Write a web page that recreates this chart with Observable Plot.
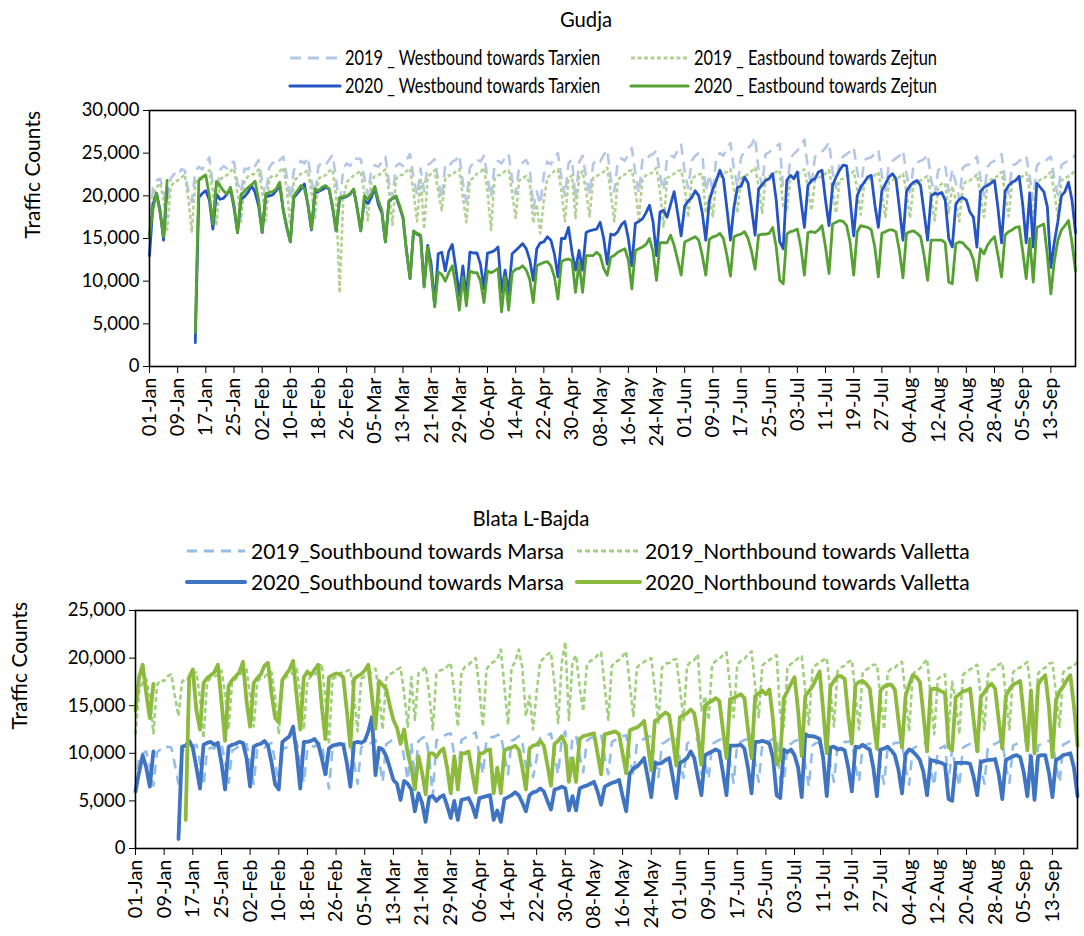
<!DOCTYPE html>
<html><head><meta charset="utf-8">
<script src="https://cdn.jsdelivr.net/npm/d3@7"></script>
<script src="https://cdn.jsdelivr.net/npm/@observablehq/plot@0.6"></script>
<style>
body{margin:0;background:#fff;}
#page{position:relative;width:1084px;height:936px;overflow:hidden;font-family:Lato,"Open Sans",sans-serif;color:#000;background:#fff;}
.t{position:absolute;white-space:nowrap;line-height:1;transform-origin:0 50%;}
.chart{position:absolute;left:0;}
#legendLines{position:absolute;left:0;top:0;}
</style></head><body><div id="page"></div>
<script>
// ---------- x axis tick labels (every 8 days from 01-Jan) ----------
const tickLabels = ["01-Jan","09-Jan","17-Jan","25-Jan","02-Feb","10-Feb","18-Feb","26-Feb","05-Mar","13-Mar","21-Mar","29-Mar","06-Apr","14-Apr","22-Apr","30-Apr","08-May","16-May","24-May","01-Jun","09-Jun","17-Jun","25-Jun","03-Jul","11-Jul","19-Jul","27-Jul","04-Aug","12-Aug","20-Aug","28-Aug","05-Sep","13-Sep"];
const gudjaYTicks = [0,5000,10000,15000,20000,25000,30000];
const blataYTicks = [0,5000,10000,15000,20000,25000];

// ---------- Gudja daily counts (thousands), 01-Jan .. 20-Sep ----------
const gudjaWest2020 = [13.0,19.0,20.3,18.3,14.8,
21.0,null,null,null,null,null,null,
null,2.8,19.8,20.3,20.6,19.5,16.1,
20.2,19.6,19.7,20.2,20.8,18.6,15.7,
19.6,19.9,20.4,21.2,20.4,18.8,15.7,
19.9,20.0,20.1,20.6,21.2,18.3,16.2,
14.6,19.8,20.3,20.8,21.4,18.9,16.0,
20.3,20.5,20.7,21.0,20.8,18.6,15.9,
19.7,19.8,19.9,20.2,20.7,18.5,15.9,
19.5,19.1,19.8,20.9,19.0,18.0,14.6,
19.3,19.7,19.9,18.7,17.4,13.5,10.3,
15.8,15.5,15.3,9.4,14.2,12.0,7.2,
13.2,13.4,11.2,13.5,14.3,11.5,8.3,
11.8,8.1,13.4,13.3,13.3,12.0,9.1,
13.3,13.4,13.6,14.0,8.7,11.3,8.5,
13.2,13.6,14.0,14.4,13.8,12.5,10.1,
13.8,14.5,14.6,15.2,14.8,13.2,10.5,
15.0,15.0,16.3,13.4,11.3,13.6,11.3,
15.7,15.9,16.0,16.1,16.9,15.0,12.0,
15.5,15.4,15.8,16.6,17.0,15.0,11.8,
16.8,17.0,17.3,18.0,18.9,17.0,13.0,
18.1,18.3,17.5,19.0,20.5,18.0,15.3,
18.8,19.4,19.8,20.6,20.0,18.0,14.8,
19.4,20.8,21.8,23.0,22.0,18.5,14.8,
18.7,21.0,21.1,22.2,21.5,18.5,15.4,
20.8,21.3,21.8,22.0,22.6,19.5,14.6,
13.8,21.8,22.4,22.0,22.8,19.5,16.3,
21.2,21.8,22.0,22.8,23.0,19.5,16.5,
21.2,22.2,23.0,23.6,23.5,19.5,15.3,
20.0,21.0,21.6,22.2,22.4,19.0,16.3,
20.6,21.4,22.2,22.6,22.0,18.5,14.8,
20.5,21.2,21.6,21.8,21.2,18.0,14.8,
20.0,20.3,20.2,20.4,19.5,15.0,14.0,
19.0,19.6,19.8,19.5,18.1,17.5,14.0,
20.5,21.0,21.2,21.5,21.8,18.5,14.5,
20.5,21.2,21.6,21.8,22.3,19.0,14.5,
20.3,14.0,21.5,21.0,20.5,18.7,11.6,
14.6,17.0,20.0,20.5,21.6,19.5,15.7];

const gudjaEast2020 = [15.3,18.5,20.3,18.0,15.2,
21.8,null,null,null,null,null,null,
null,4.0,21.8,22.2,22.4,20.0,16.7,
21.7,21.2,20.6,20.2,21.0,19.0,15.7,
20.2,20.5,21.0,21.3,21.7,19.5,15.7,
20.2,20.4,20.5,20.8,21.6,18.3,16.4,
14.6,20.0,20.6,21.2,20.8,19.0,16.1,
20.8,20.6,21.0,21.2,20.8,18.8,15.9,
19.8,19.9,20.0,20.3,20.8,18.5,15.9,
20.0,19.6,20.2,21.1,19.5,18.3,14.6,
19.4,19.7,20.0,18.9,17.5,13.5,10.3,
15.9,15.6,15.4,9.3,14.0,11.0,7.0,
11.1,10.8,10.0,11.0,11.8,9.5,6.6,
10.5,7.1,11.2,11.0,11.0,10.0,7.5,
11.2,11.0,11.2,11.5,6.4,10.5,6.6,
11.0,11.4,11.5,11.8,11.3,10.2,7.5,
11.8,12.0,12.2,12.3,11.8,10.5,7.9,
12.3,12.5,12.6,12.4,8.7,12.2,8.7,
13.0,13.0,13.0,13.4,13.0,11.5,10.7,
12.8,13.0,13.4,13.6,13.8,12.5,9.1,
13.6,13.8,14.0,14.3,15.0,13.5,10.1,
14.5,14.5,14.5,15.4,14.2,12.5,10.7,
14.6,14.8,15.0,15.2,14.8,13.0,10.7,
14.9,15.2,15.3,15.6,15.0,13.0,10.6,
15.2,15.4,15.5,15.8,15.0,13.5,11.4,
15.4,15.5,15.5,15.6,16.3,14.0,10.1,
9.7,15.5,15.8,15.9,16.1,14.0,10.7,
15.7,15.8,15.7,16.0,16.5,14.0,10.9,
16.7,16.9,17.1,17.0,16.5,14.5,10.7,
15.8,16.5,16.4,16.3,16.0,14.0,10.5,
15.6,15.8,16.0,16.0,15.8,13.5,10.4,
15.6,15.8,15.9,15.6,15.2,13.0,10.1,
14.8,14.8,14.8,14.8,14.5,9.9,9.7,
14.4,14.6,14.5,14.0,13.6,12.5,10.1,
13.8,13.2,14.2,14.8,15.2,13.0,10.5,
15.4,15.8,16.0,16.3,16.4,13.5,10.3,
15.0,9.9,16.3,16.5,16.7,13.0,8.5,
12.4,14.8,16.0,16.5,17.1,14.5,11.2];

// 2019 values placed on the same calendar date (no 29-Feb in 2019)
const gudjaWest2019 = [15.5,21.0,21.8,22.0,20.5,19.0,
22.0,22.6,22.3,23.1,23.0,20.6,19.3,
22.8,23.4,23.1,23.8,24.5,21.2,19.8,
23.0,23.5,23.2,23.9,24.0,21.5,20.4,
23.2,23.1,23.8,23.5,24.2,21.8,19.9,
23.3,23.9,23.6,24.2,24.6,22.3,19.5,
23.0,23.5,24.1,23.8,24.5,21.7,20.2,
23.5,23.9,23.6,24.2,24.8,22.0,18.5,
23.2,23.8,23.5,24.4,null,24.3,22.2,20.1,
23.1,23.6,23.4,24.0,24.6,21.6,19.8,
23.5,23.8,23.5,24.2,24.9,22.1,20.0,
23.2,20.5,23.6,23.9,24.3,21.8,19.6,
23.6,23.4,24.0,24.2,24.8,21.5,19.3,
23.3,23.9,24.3,24.0,24.7,22.2,19.8,
23.6,24.1,23.8,24.5,24.9,21.9,20.2,
23.4,23.9,24.2,23.3,18.5,20.5,19.0,
22.5,24.0,23.7,24.5,25.0,22.1,20.0,
23.8,24.3,19.5,23.9,24.7,22.3,20.1,
23.7,24.3,24.0,24.8,25.4,22.0,20.5,
24.0,24.4,24.1,24.9,25.6,22.6,20.3,
24.2,24.0,24.7,24.9,25.3,22.4,20.6,
24.4,24.8,24.5,25.3,26.0,22.8,20.9,
24.1,24.7,25.0,24.8,20.5,22.5,20.4,
24.6,25.0,24.7,25.6,26.2,23.1,21.0,
24.5,25.2,25.6,26.0,26.9,22.9,21.2,
24.9,25.1,25.5,25.8,26.1,20.5,20.6,
24.4,24.9,25.3,25.9,26.6,23.2,21.1,
24.6,24.7,25.2,25.6,26.3,22.8,20.9,
24.1,24.6,24.9,25.2,25.7,22.9,20.7,
24.2,24.4,24.5,25.0,25.4,22.4,20.6,
23.7,24.1,24.4,24.7,25.3,22.6,20.4,
23.6,23.9,24.1,24.3,24.9,21.9,20.1,
23.0,23.3,23.6,20.5,23.1,21.5,19.6,
23.3,23.6,23.7,24.1,24.6,22.1,20.0,
23.4,23.9,24.1,24.4,24.9,21.8,20.2,
23.6,23.7,24.1,24.3,24.7,22.2,19.5,
23.5,24.0,23.9,24.3,24.6,21.9,20.1,
23.6,23.9,24.1,24.3,24.8];

const gudjaEast2019 = [15.0,20.0,21.0,21.5,19.5,16.0,
21.0,21.6,21.8,22.1,22.5,19.8,15.8,
21.5,22.1,22.0,22.6,23.0,20.5,16.5,
21.8,22.3,22.4,22.9,23.2,20.3,16.9,
21.7,22.3,22.5,22.6,23.1,20.6,17.1,
22.0,22.4,22.3,22.9,23.3,20.8,16.5,
21.8,22.1,22.6,22.7,23.0,20.4,17.4,
22.0,22.3,22.4,22.9,23.1,20.0,8.6,
19.5,21.6,22.0,22.4,null,22.9,20.4,17.1,
21.8,22.3,22.4,22.7,23.1,20.6,16.6,
22.0,22.4,22.5,22.9,23.2,20.4,17.0,
22.1,16.1,22.2,22.6,23.0,20.5,18.3,
22.0,22.4,22.4,22.9,23.1,19.9,16.9,
21.8,22.1,22.6,22.8,23.3,20.6,16.0,
22.0,22.4,22.5,22.9,23.0,20.3,17.4,
21.8,22.1,22.3,21.5,16.8,19.0,15.6,
19.5,22.1,22.5,22.9,23.1,20.6,17.0,
22.0,22.4,17.4,22.3,22.9,20.5,17.6,
22.1,22.3,22.6,22.8,23.3,20.4,17.0,
21.8,22.3,22.5,22.9,23.0,20.7,17.2,
22.0,22.4,22.5,22.8,23.3,20.5,16.4,
22.1,22.3,22.6,22.9,23.0,20.9,17.5,
22.0,22.3,22.5,22.6,18.0,20.0,17.6,
22.1,22.2,22.6,22.8,23.1,20.8,18.0,
22.0,22.4,22.5,22.9,23.3,21.1,18.0,
22.1,22.3,22.6,22.8,23.0,18.5,18.1,
22.0,22.3,22.5,22.9,23.1,21.0,18.3,
21.8,22.1,22.3,22.6,23.0,20.7,18.0,
21.9,22.0,22.3,22.5,22.9,20.8,17.8,
21.5,21.9,22.0,22.4,22.8,20.4,17.5,
21.6,21.8,22.1,22.2,22.6,20.5,17.4,
21.2,21.6,21.8,22.1,22.3,19.9,17.1,
21.0,21.4,21.5,18.0,21.1,19.5,17.0,
21.3,21.7,21.8,22.1,22.5,20.3,17.5,
21.5,21.9,22.0,22.4,22.8,20.4,17.6,
21.6,21.8,22.1,22.3,22.7,20.6,17.0,
21.5,21.9,22.0,22.4,22.8,20.4,17.5,
21.8,22.1,22.3,22.6,23.0];

// ---------- Blata L-Bajda daily counts (thousands) ----------
const blataSouth2020 = [6.0,8.0,9.8,8.5,6.5,
10.2,null,null,null,null,null,null,
1.0,10.7,10.8,11.3,10.6,8.5,6.3,
10.9,11.1,11.2,10.9,11.1,9.0,6.2,
10.7,10.9,11.0,11.2,11.1,9.5,6.5,
10.7,10.9,11.0,11.3,10.8,9.0,6.7,
6.2,11.2,11.5,11.8,12.8,10.0,6.3,
11.2,11.2,11.3,11.5,11.0,9.5,7.8,
10.5,10.8,10.9,11.0,10.9,9.0,6.5,
11.1,11.2,11.1,11.3,12.3,13.8,7.7,
10.6,10.4,9.7,8.5,7.2,6.8,5.1,
7.1,6.8,6.2,3.9,5.8,4.8,2.8,
5.4,5.5,5.0,5.4,5.6,4.5,3.2,
5.0,3.0,5.1,5.2,5.3,4.5,3.3,
5.3,5.4,5.5,5.6,3.0,4.0,2.8,
5.2,5.4,5.6,5.9,5.6,4.8,3.9,
5.6,5.9,6.0,6.3,6.0,5.0,4.1,
6.2,6.3,6.5,6.3,4.0,5.5,4.0,
6.3,6.5,6.6,6.8,7.0,6.0,4.6,
6.5,6.7,6.9,7.0,7.2,5.5,3.9,
7.9,8.4,8.6,9.0,9.5,7.5,5.4,
9.0,8.9,9.0,9.3,9.5,7.5,5.3,
9.0,9.2,9.5,10.2,9.5,7.5,5.6,
9.8,10.0,10.2,10.4,10.2,8.0,5.6,
10.8,10.8,10.8,10.9,10.5,8.5,5.8,
11.2,11.2,11.3,11.2,11.0,9.5,5.6,
5.3,10.4,10.1,10.4,9.8,8.5,5.4,
12.0,11.8,11.8,11.7,11.5,9.5,5.5,
10.6,10.7,10.4,10.5,10.3,8.5,6.0,
10.7,10.6,10.9,10.6,10.4,8.5,5.5,
10.4,10.5,10.7,10.3,9.8,8.3,5.8,
9.9,10.4,10.2,9.8,9.3,8.0,5.6,
9.3,9.2,9.1,9.0,8.8,5.2,5.0,
9.0,9.0,9.0,9.0,8.9,7.5,5.6,
9.1,9.2,9.3,9.3,9.4,7.8,5.2,
9.3,9.5,9.7,9.8,9.6,8.0,5.5,
9.7,5.1,9.7,9.8,9.8,8.0,5.4,
9.3,9.5,9.8,9.9,10.0,8.5,5.5];

const blataNorth2020 = [14.5,18.0,19.3,16.3,13.7,
17.3,null,null,null,null,null,null,
null,null,3.0,18.0,18.8,14.5,12.5,
17.4,17.9,18.2,18.5,19.3,15.5,11.3,
17.1,17.7,18.1,18.5,19.6,15.5,12.8,
17.4,17.9,18.3,19.2,19.5,16.2,13.7,
13.3,17.7,18.3,18.8,19.7,16.0,12.5,
18.0,18.6,18.2,18.8,19.3,15.0,11.5,
18.0,18.2,18.4,18.3,18.0,14.5,10.7,
17.8,18.1,18.3,18.7,19.3,16.0,12.6,
17.6,17.2,16.7,15.0,13.5,12.7,11.0,
12.5,10.0,8.5,6.2,9.7,8.0,5.7,
10.0,10.0,9.6,10.2,10.5,8.5,5.8,
9.7,6.2,10.0,10.0,10.2,8.0,5.9,
10.0,10.0,10.3,10.4,5.8,8.5,5.8,
10.3,10.5,10.6,10.8,10.4,8.5,6.2,
10.5,10.8,10.9,11.3,10.8,8.8,6.6,
11.0,11.3,11.8,11.0,7.0,9.5,7.0,
11.5,11.8,11.9,12.0,12.1,10.0,7.8,
12.0,12.1,12.2,12.3,12.0,10.0,7.9,
12.4,12.6,12.7,13.0,13.4,11.0,8.2,
13.4,13.6,14.0,14.3,14.0,11.5,8.7,
13.8,14.0,14.2,14.6,14.2,12.0,8.8,
15.0,15.3,15.5,15.8,15.5,12.5,9.5,
15.7,15.8,16.0,16.2,15.8,12.5,9.5,
16.0,16.3,16.6,16.2,16.7,13.5,8.8,
9.5,15.8,16.5,17.3,18.0,14.5,9.7,
16.0,16.5,17.0,17.8,18.6,14.5,10.0,
17.0,17.6,18.1,18.1,17.8,14.0,11.0,
17.2,17.5,17.6,17.3,16.8,13.5,10.5,
16.6,17.0,17.2,17.2,16.7,13.5,10.6,
16.0,17.2,18.2,18.0,17.5,14.0,10.2,
16.7,16.8,16.7,16.5,16.3,10.7,10.3,
15.9,16.2,16.5,16.6,16.8,13.5,10.2,
15.9,16.4,17.0,17.3,16.8,13.5,10.5,
16.0,16.7,17.2,17.4,17.6,14.0,10.3,
16.6,10.0,17.2,17.8,18.2,15.0,9.6,
15.6,16.5,17.0,17.7,18.2,15.0,10.8];

const blataSouth2019 = [6.5,9.5,10.0,10.2,8.6,6.6,
10.1,10.4,10.3,10.7,10.6,8.8,6.8,
10.2,10.5,10.6,10.8,10.9,9.0,6.6,
10.3,10.6,10.5,10.9,11.0,9.1,6.9,
10.3,10.5,10.8,10.7,11.0,9.0,6.8,
10.4,10.7,10.6,10.9,11.1,9.1,6.6,
10.4,10.6,10.8,10.9,11.2,9.1,6.9,
10.5,10.8,10.7,11.0,11.1,8.8,6.3,
10.5,10.7,10.9,11.0,null,11.1,9.1,6.8,
10.6,10.9,11.0,11.1,11.4,9.3,7.0,
11.0,11.2,11.5,11.5,11.8,9.5,7.2,
11.1,7.5,11.3,11.6,11.8,9.6,5.5,
11.3,11.7,11.8,12.0,12.1,9.8,7.5,
11.4,11.6,11.9,12.0,12.2,9.8,7.8,
11.4,11.7,11.7,11.9,12.0,9.8,7.8,
11.3,11.5,11.8,11.2,8.5,9.5,7.5,
9.5,11.6,11.7,11.9,12.1,9.8,7.8,
11.5,12.3,8.0,11.6,11.9,9.8,8.0,
11.3,11.6,11.7,11.9,12.0,9.6,7.8,
11.2,11.4,11.7,11.8,11.9,9.5,7.6,
11.1,11.4,11.5,11.7,11.8,9.4,7.5,
11.0,11.2,11.5,11.6,11.7,9.3,7.4,
11.0,11.3,11.4,11.5,7.8,9.0,7.3,
11.0,11.2,11.4,11.6,11.6,9.0,6.9,
11.0,11.2,11.4,11.5,11.7,9.0,7.0,
10.9,11.2,11.3,11.5,11.8,7.0,6.8,
10.8,11.0,11.3,11.4,11.5,8.8,6.5,
10.8,11.1,11.1,11.3,11.4,8.8,7.0,
10.7,10.9,11.2,11.2,11.3,8.7,7.0,
10.7,10.9,11.0,11.3,11.3,8.5,6.8,
10.6,10.8,11.1,11.1,11.2,8.5,6.7,
10.5,10.7,10.9,11.0,11.1,8.4,6.6,
10.4,10.6,10.8,7.0,10.5,8.3,6.5,
10.6,10.8,11.0,11.1,11.2,8.6,6.8,
10.7,10.9,11.0,11.2,11.3,8.7,6.9,
10.8,11.0,11.1,11.2,11.4,8.8,6.5,
10.8,11.0,11.2,11.3,11.4,8.8,6.9,
10.9,11.1,11.3,11.5,11.8];

const blataNorth2019 = [12.0,16.5,17.5,17.8,16.0,12.1,
17.2,17.7,17.6,18.1,18.3,16.0,13.9,
17.5,17.9,17.8,18.3,18.5,15.8,11.6,
17.5,17.9,18.1,18.2,18.7,16.2,12.5,
17.6,17.8,18.3,18.4,18.8,16.0,12.8,
17.5,17.9,18.0,18.4,18.5,15.9,12.0,
17.5,18.0,18.2,18.5,18.9,16.2,12.5,
17.6,18.1,18.2,18.6,19.4,15.8,10.9,
17.8,18.0,18.4,18.5,null,18.8,16.0,12.3,
17.8,18.1,18.3,18.6,18.9,16.2,12.5,
17.9,18.3,18.5,18.8,19.0,16.3,12.8,
18.0,13.5,18.4,18.6,19.1,16.2,12.5,
18.3,18.7,18.8,19.1,19.5,16.5,12.8,
18.5,19.1,19.3,19.7,20.0,16.8,12.8,
18.8,19.4,19.6,19.9,20.9,17.0,13.0,
19.0,19.6,20.9,19.0,13.9,16.0,12.5,
16.5,19.6,20.0,20.4,20.6,17.2,13.2,
19.5,21.7,13.5,19.6,20.3,17.0,14.4,
19.3,19.7,19.9,20.3,20.6,17.0,13.5,
19.2,19.6,19.8,20.2,20.7,17.2,13.9,
19.0,19.4,19.6,19.9,20.0,16.8,13.2,
19.0,19.4,19.5,19.8,19.9,16.8,13.5,
19.2,19.6,19.8,20.4,14.5,16.0,13.5,
19.3,19.7,19.9,20.3,20.6,17.0,13.8,
19.3,19.7,19.9,20.4,20.7,17.0,13.8,
19.2,19.6,19.8,20.1,20.3,14.0,12.8,
19.0,19.4,19.6,20.0,20.2,16.5,13.0,
18.8,19.3,19.5,19.8,20.0,16.5,12.8,
18.6,19.0,19.2,19.6,19.8,16.2,12.5,
18.4,18.8,19.0,19.3,19.3,16.0,12.5,
18.5,18.9,19.0,19.4,19.6,16.0,12.3,
18.3,18.7,18.9,19.4,19.9,16.0,12.0,
17.8,18.1,18.3,12.5,17.5,15.5,12.0,
18.2,18.6,18.8,19.1,19.3,16.0,12.5,
18.3,18.7,18.9,19.3,19.5,16.2,12.5,
18.5,18.9,19.0,19.3,19.6,16.5,12.0,
18.4,18.8,19.0,19.4,19.5,16.3,12.8,
18.5,18.9,19.0,19.2,19.6];

// ---------- build tables ----------
const toRows = (arr, connect) => {
  const rows = arr.map((v, d) => ({d, v: v == null ? NaN : v * 1000}));
  return connect ? rows.filter(r => !isNaN(r.v)) : rows;
};
const tickDays = tickLabels.map((_, i) => i * 8);
const fmtTick = d => tickLabels[tickDays.indexOf(d)];
const FONT = "Lato, 'Open Sans', sans-serif";

const page = document.getElementById("page");

function text(str, x, capY, size, anchor = "start", sx = 1) {
  const el = document.createElement("div");
  el.className = "t";
  el.textContent = str;
  el.style.fontSize = size + "px";
  el.style.top = (capY - 0.529 * size) + "px";
  el.style.left = x + "px";
  el.style.transform = (anchor === "middle" ? "translateX(-50%) " : "") + `scaleX(${sx})`;
  if (anchor === "middle") el.style.transformOrigin = "50% 50%";
  page.appendChild(el);
}

function chart(cfg) {
  const svg = Plot.plot({
    width: 1084, height: cfg.height,
    marginTop: cfg.mt, marginBottom: cfg.mb, marginLeft: cfg.ml, marginRight: cfg.mr,
    style: {fontFamily: FONT, fontSize: "20px", color: "#000", background: "transparent", overflow: "visible"},
    x: {domain: [0, 263]},
    y: {domain: cfg.ydomain},
    marks: [
      Plot.axisX({ticks: tickDays, tickFormat: fmtTick, tickRotate: -90, tickSize: 7, tickPadding: 4, fontSize: 20, label: null}),
      Plot.axisY({ticks: cfg.yticks, tickFormat: d3.format(","), tickSize: 6, tickPadding: 4, fontSize: 18.5, label: null}),
      ...cfg.series.map(s => Plot.line(toRows(s.data, s.connect), {
        x: "d", y: "v", stroke: s.color, strokeWidth: s.width,
        strokeDasharray: s.dash, strokeLinejoin: "round", strokeLinecap: s.dash ? "butt" : "round"
      })),
      Plot.frame({stroke: "#000", strokeWidth: 1.6}),
      Plot.text(["Traffic Counts"], {text: d => d, frameAnchor: "left", dx: cfg.labelDx, rotate: -90, fontSize: 21, fill: "#000"})
    ]
  });
  svg.classList.add("chart");
  svg.style.top = cfg.top + "px";
  page.appendChild(svg);
}

const gudjaSeries = [
  {name: "2019 _ Westbound towards Tarxien", data: gudjaWest2019, connect: true, color: "#b4c7e7", width: 2.6, dash: "11,7"},
  {name: "2019 _ Eastbound towards Zejtun", data: gudjaEast2019, connect: true, color: "#b3d193", width: 2.6, dash: "4,2.5"},
  {name: "2020 _ Westbound towards Tarxien", data: gudjaWest2020, connect: false, color: "#2555c4", width: 2.8, dash: null},
  {name: "2020 _ Eastbound towards Zejtun", data: gudjaEast2020, connect: false, color: "#55a131", width: 2.8, dash: null}
];
const blataSeries = [
  {name: "2019_Southbound towards Marsa", data: blataSouth2019, connect: true, color: "#93bde6", width: 2.6, dash: "10,7"},
  {name: "2019_Northbound towards Valletta", data: blataNorth2019, connect: true, color: "#a0d07d", width: 2.6, dash: "5,3"},
  {name: "2020_Southbound towards Marsa", data: blataSouth2020, connect: false, color: "#3f74c2", width: 3.8, dash: null},
  {name: "2020_Northbound towards Valletta", data: blataNorth2020, connect: false, color: "#8cba3c", width: 3.8, dash: null}
];

chart({top: 96, height: 370, mt: 14, mb: 100, ml: 149, mr: 9, ydomain: [0, 30000], yticks: gudjaYTicks, series: gudjaSeries, labelDx: -116});
chart({top: 598, height: 338, mt: 12, mb: 88, ml: 135, mr: 7, ydomain: [0, 25000], yticks: blataYTicks, series: blataSeries, labelDx: -115});

// ---------- titles & legends ----------
text("Gudja", 586, 19.5, 22, "middle", 0.92);
text("Blata L-Bajda", 531, 519, 21.5, "middle", 0.95);

const legendSvg = d3.create("svg").attr("id", "legendLines").attr("width", 1084).attr("height", 936);
function legendItem(s, x1, x2, tx, y, size, sx) {
  legendSvg.append("line").attr("x1", x1).attr("x2", x2).attr("y1", y).attr("y2", y)
    .attr("stroke", s.color).attr("stroke-width", s.width + 0.4)
    .attr("stroke-dasharray", s.dash).attr("stroke-linecap", s.dash ? "butt" : "round");
  text(s.name, tx, y, size, "start", sx);
}
// Gudja legend (2 columns x 2 rows)
legendItem(gudjaSeries[0], 290, 340, 345, 58, 20.5, 0.8);
legendItem(gudjaSeries[1], 631, 688, 694, 58, 20.5, 0.8);
legendItem(gudjaSeries[2], 290, 340, 345, 86, 20.5, 0.8);
legendItem(gudjaSeries[3], 631, 688, 694, 86, 20.5, 0.8);
// Blata legend
legendItem(blataSeries[0], 187, 245, 251, 551, 21, 1);
legendItem(blataSeries[1], 577, 640, 645, 551, 21, 1);
legendItem(blataSeries[2], 187, 245, 251, 582, 21, 1);
legendItem(blataSeries[3], 577, 640, 645, 582, 21, 1);
page.appendChild(legendSvg.node());
</script></body></html>
